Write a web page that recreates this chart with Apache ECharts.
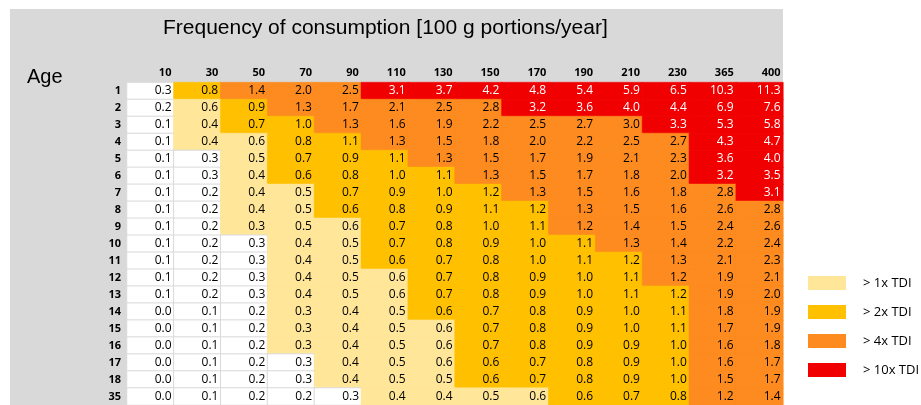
<!DOCTYPE html>
<html>
<head>
<meta charset="utf-8">
<script src="https://cdn.jsdelivr.net/npm/echarts@6/dist/echarts.min.js"></script>
<style>
  html, body { margin: 0; padding: 0; background: #fff; }
  #main { width: 921px; height: 405px; }
</style>
</head>
<body>
<div id="main"></div>
<script>
// portions per year (columns) and age in years (rows)
const portions = ['10', '30', '50', '70', '90', '110', '130', '150', '170', '190', '210', '230', '365', '400'];
const ages = ['1', '2', '3', '4', '5', '6', '7', '8', '9', '10', '11', '12', '13', '14', '15', '16', '17', '18', '35'];

// values shown in the cells, one row per age
const values = [
  [0.3, 0.8, 1.4, 2.0, 2.5, 3.1, 3.7, 4.2, 4.8, 5.4, 5.9, 6.5, 10.3, 11.3],
  [0.2, 0.6, 0.9, 1.3, 1.7, 2.1, 2.5, 2.8, 3.2, 3.6, 4.0, 4.4, 6.9, 7.6],
  [0.1, 0.4, 0.7, 1.0, 1.3, 1.6, 1.9, 2.2, 2.5, 2.7, 3.0, 3.3, 5.3, 5.8],
  [0.1, 0.4, 0.6, 0.8, 1.1, 1.3, 1.5, 1.8, 2.0, 2.2, 2.5, 2.7, 4.3, 4.7],
  [0.1, 0.3, 0.5, 0.7, 0.9, 1.1, 1.3, 1.5, 1.7, 1.9, 2.1, 2.3, 3.6, 4.0],
  [0.1, 0.3, 0.4, 0.6, 0.8, 1.0, 1.1, 1.3, 1.5, 1.7, 1.8, 2.0, 3.2, 3.5],
  [0.1, 0.2, 0.4, 0.5, 0.7, 0.9, 1.0, 1.2, 1.3, 1.5, 1.6, 1.8, 2.8, 3.1],
  [0.1, 0.2, 0.4, 0.5, 0.6, 0.8, 0.9, 1.1, 1.2, 1.3, 1.5, 1.6, 2.6, 2.8],
  [0.1, 0.2, 0.3, 0.5, 0.6, 0.7, 0.8, 1.0, 1.1, 1.2, 1.4, 1.5, 2.4, 2.6],
  [0.1, 0.2, 0.3, 0.4, 0.5, 0.7, 0.8, 0.9, 1.0, 1.1, 1.3, 1.4, 2.2, 2.4],
  [0.1, 0.2, 0.3, 0.4, 0.5, 0.6, 0.7, 0.8, 1.0, 1.1, 1.2, 1.3, 2.1, 2.3],
  [0.1, 0.2, 0.3, 0.4, 0.5, 0.6, 0.7, 0.8, 0.9, 1.0, 1.1, 1.2, 1.9, 2.1],
  [0.1, 0.2, 0.3, 0.4, 0.5, 0.6, 0.7, 0.8, 0.9, 1.0, 1.1, 1.2, 1.9, 2.0],
  [0.0, 0.1, 0.2, 0.3, 0.4, 0.5, 0.6, 0.7, 0.8, 0.9, 1.0, 1.1, 1.8, 1.9],
  [0.0, 0.1, 0.2, 0.3, 0.4, 0.5, 0.6, 0.7, 0.8, 0.9, 1.0, 1.1, 1.7, 1.9],
  [0.0, 0.1, 0.2, 0.3, 0.4, 0.5, 0.6, 0.7, 0.8, 0.9, 0.9, 1.0, 1.6, 1.8],
  [0.0, 0.1, 0.2, 0.3, 0.4, 0.5, 0.6, 0.6, 0.7, 0.8, 0.9, 1.0, 1.6, 1.7],
  [0.0, 0.1, 0.2, 0.3, 0.4, 0.5, 0.5, 0.6, 0.7, 0.8, 0.9, 1.0, 1.5, 1.7],
  [0.0, 0.1, 0.2, 0.2, 0.3, 0.4, 0.4, 0.5, 0.6, 0.6, 0.7, 0.8, 1.2, 1.4]
];

// TDI class of each cell: 0 none, 1 >1x, 2 >2x, 3 >4x, 4 >10x
const levels = [
  [0, 2, 3, 3, 3, 4, 4, 4, 4, 4, 4, 4, 4, 4],
  [0, 1, 2, 3, 3, 3, 3, 3, 4, 4, 4, 4, 4, 4],
  [0, 1, 2, 2, 3, 3, 3, 3, 3, 3, 3, 4, 4, 4],
  [0, 1, 1, 2, 2, 3, 3, 3, 3, 3, 3, 3, 4, 4],
  [0, 0, 1, 2, 2, 2, 3, 3, 3, 3, 3, 3, 4, 4],
  [0, 0, 1, 2, 2, 2, 2, 3, 3, 3, 3, 3, 4, 4],
  [0, 0, 1, 1, 2, 2, 2, 2, 3, 3, 3, 3, 3, 4],
  [0, 0, 1, 1, 2, 2, 2, 2, 2, 3, 3, 3, 3, 3],
  [0, 0, 1, 1, 1, 2, 2, 2, 2, 3, 3, 3, 3, 3],
  [0, 0, 0, 1, 1, 2, 2, 2, 2, 2, 3, 3, 3, 3],
  [0, 0, 0, 1, 1, 2, 2, 2, 2, 2, 2, 3, 3, 3],
  [0, 0, 0, 1, 1, 1, 2, 2, 2, 2, 2, 3, 3, 3],
  [0, 0, 0, 1, 1, 1, 2, 2, 2, 2, 2, 2, 3, 3],
  [0, 0, 0, 1, 1, 1, 2, 2, 2, 2, 2, 2, 3, 3],
  [0, 0, 0, 1, 1, 1, 1, 2, 2, 2, 2, 2, 3, 3],
  [0, 0, 0, 1, 1, 1, 1, 2, 2, 2, 2, 2, 3, 3],
  [0, 0, 0, 0, 1, 1, 1, 2, 2, 2, 2, 2, 3, 3],
  [0, 0, 0, 0, 1, 1, 1, 2, 2, 2, 2, 2, 3, 3],
  [0, 0, 0, 0, 0, 1, 1, 1, 1, 2, 2, 2, 3, 3]
];

const levelNames = ['', '> 1x TDI', '> 2x TDI', '> 4x TDI', '> 10x TDI'];
const levelColors = ['#ffffff', '#ffe699', '#ffc000', '#fd8b1f', '#f00000'];

// build heatmap items
const cells = [];
values.forEach((row, y) => {
  row.forEach((v, x) => {
    const lv = levels[y][x];
    cells.push({
      value: [x, y, v, lv],
      itemStyle: lv === 0
        ? { borderColor: '#d9d9d9', borderWidth: 1 }
        : { borderColor: levelColors[lv], borderWidth: 0.5 },
      label: { color: lv === 4 ? '#ffffff' : '#000000' }
    });
  });
});

const myChart = echarts.init(document.getElementById('main'));

myChart.setOption({
  animation: false,
  textStyle: { fontFamily: 'Open Sans' },
  graphic: [
    {
      type: 'rect',
      z: -10,
      shape: { x: 10, y: 9, width: 773, height: 400 },
      style: { fill: '#d9d9d9' }
    },
    {
      type: 'text',
      left: 163,
      top: 18,
      style: {
        text: 'Frequency of consumption [100 g portions/year]',
        font: '21px "Liberation Sans"',
        fill: '#000'
      }
    },
    {
      type: 'text',
      left: 27,
      top: 67,
      style: {
        text: 'Age',
        font: '20px "Liberation Sans"',
        fill: '#000'
      }
    }
  ],
  grid: {
    left: 127,
    top: 82.5,
    width: 656,
    height: 324
  },
  xAxis: {
    type: 'category',
    position: 'top',
    data: portions,
    axisLine: { show: false },
    axisTick: { show: false },
    splitLine: { show: false },
    axisLabel: {
      interval: 0,
      margin: 4,
      formatter: (s) => '{a|' + s + '}',
      rich: {
        a: {
          width: 42,
          align: 'right',
          fontFamily: 'Open Sans',
          fontWeight: 'bold',
          fontSize: 11,
          color: '#000'
        }
      }
    }
  },
  yAxis: {
    type: 'category',
    inverse: true,
    data: ages,
    axisLine: { show: false },
    axisTick: { show: false },
    splitLine: { show: false },
    axisLabel: {
      interval: 0,
      margin: 6,
      fontWeight: 'bold',
      fontSize: 11,
      color: '#000'
    }
  },
  visualMap: {
    type: 'piecewise',
    dimension: 3,
    seriesIndex: 0,
    orient: 'vertical',
    inverse: true,
    align: 'left',
    left: 808,
    top: 276,
    padding: 0,
    itemWidth: 38,
    itemHeight: 14,
    itemGap: 15,
    itemSymbol: 'rect',
    textGap: 17,
    textStyle: { fontFamily: 'Open Sans', fontSize: 13, color: '#000' },
    pieces: [1, 2, 3, 4].map((lv) => ({ value: lv, label: levelNames[lv], color: levelColors[lv] })),
    outOfRange: { color: levelColors[0] }
  },
  series: [
    {
      type: 'heatmap',
      data: cells,
      label: {
        show: true,
        position: 'insideRight',
        distance: 3,
        fontFamily: 'Open Sans',
        fontSize: 12,
        formatter: (p) => p.value[2].toFixed(1)
      },
      emphasis: { disabled: true }
    }
  ]
});
</script>
</body>
</html>
